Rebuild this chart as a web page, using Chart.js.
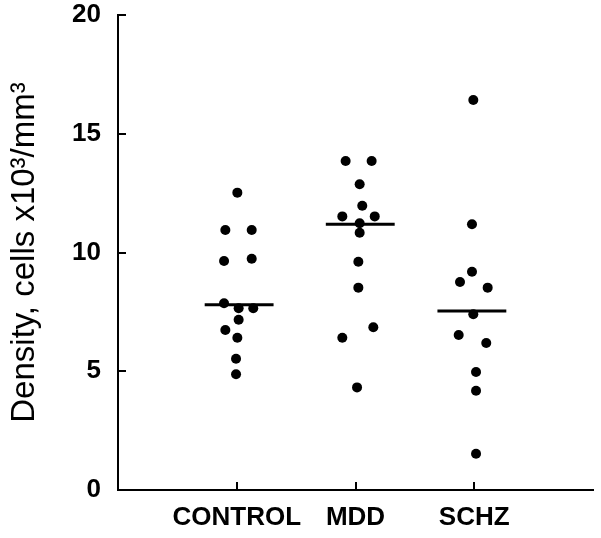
<!DOCTYPE html>
<html>
<head>
<meta charset="utf-8">
<script src="https://cdn.jsdelivr.net/npm/chart.js@4.4.1/dist/chart.umd.min.js"></script>
<style>
  html, body { margin: 0; padding: 0; background: #ffffff; }
  #wrap { width: 601px; height: 538px; }
</style>
</head>
<body>
<div id="wrap"><canvas id="c" width="601" height="538"></canvas></div>
<script>
// ---- data ----
const categories = ['CONTROL', 'MDD', 'SCHZ'];
const yTicks = [0, 5, 10, 15, 20];

// x positions (category index plus horizontal jitter) and values
const controlX = [1.005, 0.904, 1.126, 0.893, 1.126, 0.893, 1.016, 1.139, 1.016, 0.904, 1.005, 0.994, 0.994];
const controlY = [12.52, 10.95, 10.95, 9.64, 9.74, 7.86, 7.65, 7.65, 7.17, 6.74, 6.41, 5.53, 4.87];

const mddX = [1.917, 2.136, 2.035, 2.057, 1.889, 2.162, 2.035, 2.035, 2.024, 2.024, 2.150, 1.889, 2.013];
const mddY = [13.85, 13.85, 12.87, 11.97, 11.52, 11.52, 11.23, 10.83, 9.61, 8.52, 6.85, 6.41, 4.32];

const schzX = [2.992, 2.981, 2.981, 2.880, 3.113, 2.992, 2.869, 3.101, 3.015, 3.015, 3.015];
const schzY = [16.42, 11.19, 9.19, 8.76, 8.52, 7.40, 6.53, 6.19, 4.97, 4.18, 1.53];

const groupMeans = [7.80, 11.19, 7.54];
const meanCenters = [1.02, 2.04, 2.98];

// ---- build datasets ----
const toPts = (xs, ys) => xs.map((x, i) => ({ x: x, y: ys[i] }));
const MEAN_HALF = 0.29;

const pointStyle = {
  type: 'scatter',
  backgroundColor: '#000',
  borderColor: '#000',
  pointRadius: 5,
  pointHoverRadius: 5,
  borderWidth: 0,
  showLine: false
};

const datasets = [
  Object.assign({ label: categories[0], data: toPts(controlX, controlY) }, pointStyle),
  Object.assign({ label: categories[1], data: toPts(mddX, mddY) }, pointStyle),
  Object.assign({ label: categories[2], data: toPts(schzX, schzY) }, pointStyle)
];
groupMeans.forEach((m, i) => {
  datasets.push({
    type: 'line',
    label: categories[i] + ' mean',
    data: [{ x: meanCenters[i] - MEAN_HALF, y: m }, { x: meanCenters[i] + MEAN_HALF, y: m }],
    borderColor: '#000',
    borderWidth: 3,
    pointRadius: 0,
    fill: false
  });
});

// inward tick marks on both axes
const inwardTicks = {
  id: 'inwardTicks',
  afterDraw(chart) {
    const ctx = chart.ctx;
    const xs = chart.scales.x, ys = chart.scales.y;
    const area = chart.chartArea;
    ctx.save();
    ctx.strokeStyle = '#000';
    ctx.lineWidth = 2;
    ctx.beginPath();
    [1, 2, 3].forEach(v => {
      const px = Math.round(xs.getPixelForValue(v));
      ctx.moveTo(px, area.bottom);
      ctx.lineTo(px, area.bottom - 8);
    });
    yTicks.forEach(v => {
      const py = Math.round(ys.getPixelForValue(v));
      ctx.moveTo(area.left, py);
      ctx.lineTo(area.left + 8, py);
    });
    ctx.stroke();
    ctx.restore();
  }
};

const tickFont = { family: '"Liberation Sans", Arial, sans-serif', weight: 'bold', size: 26 };

new Chart(document.getElementById('c'), {
  type: 'scatter',
  data: { datasets: datasets },
  options: {
    responsive: false,
    animation: false,
    layout: { padding: { top: 15, right: 8, left: 0, bottom: 0 } },
    plugins: { legend: { display: false }, tooltip: { enabled: false } },
    scales: {
      x: {
        type: 'linear',
        min: 0,
        max: 4,
        afterBuildTicks: s => { s.ticks = [1, 2, 3].map(v => ({ value: v })); },
        afterFit: s => { s.height = 48; s.paddingLeft = 0; s.paddingRight = 0; },
        grid: { display: false, drawTicks: false },
        border: { display: true, color: '#000', width: 2 },
        ticks: {
          color: '#000',
          padding: 12,
          maxRotation: 0,
          autoSkip: false,
          font: { family: '"Liberation Sans", Arial, sans-serif', weight: 'bold', size: 26 },
          callback: v => categories[v - 1] || ''
        }
      },
      y: {
        type: 'linear',
        min: 0,
        max: 20,
        afterBuildTicks: s => { s.ticks = yTicks.map(v => ({ value: v })); },
        afterFit: s => { s.width = 118; s.paddingTop = 0; s.paddingBottom = 0; },
        grid: { display: false, drawTicks: false },
        border: { display: true, color: '#000', width: 2 },
        ticks: { color: '#000', padding: 17, font: tickFont },
        title: {
          display: true,
          text: 'Density, cells x10³/mm³',
          color: '#000',
          padding: { top: 8, bottom: 0 },
          font: { family: '"Liberation Sans", Arial, sans-serif', weight: 'normal', size: 33, lineHeight: 1 }
        }
      }
    }
  },
  plugins: [inwardTicks]
});
</script>
</body>
</html>
